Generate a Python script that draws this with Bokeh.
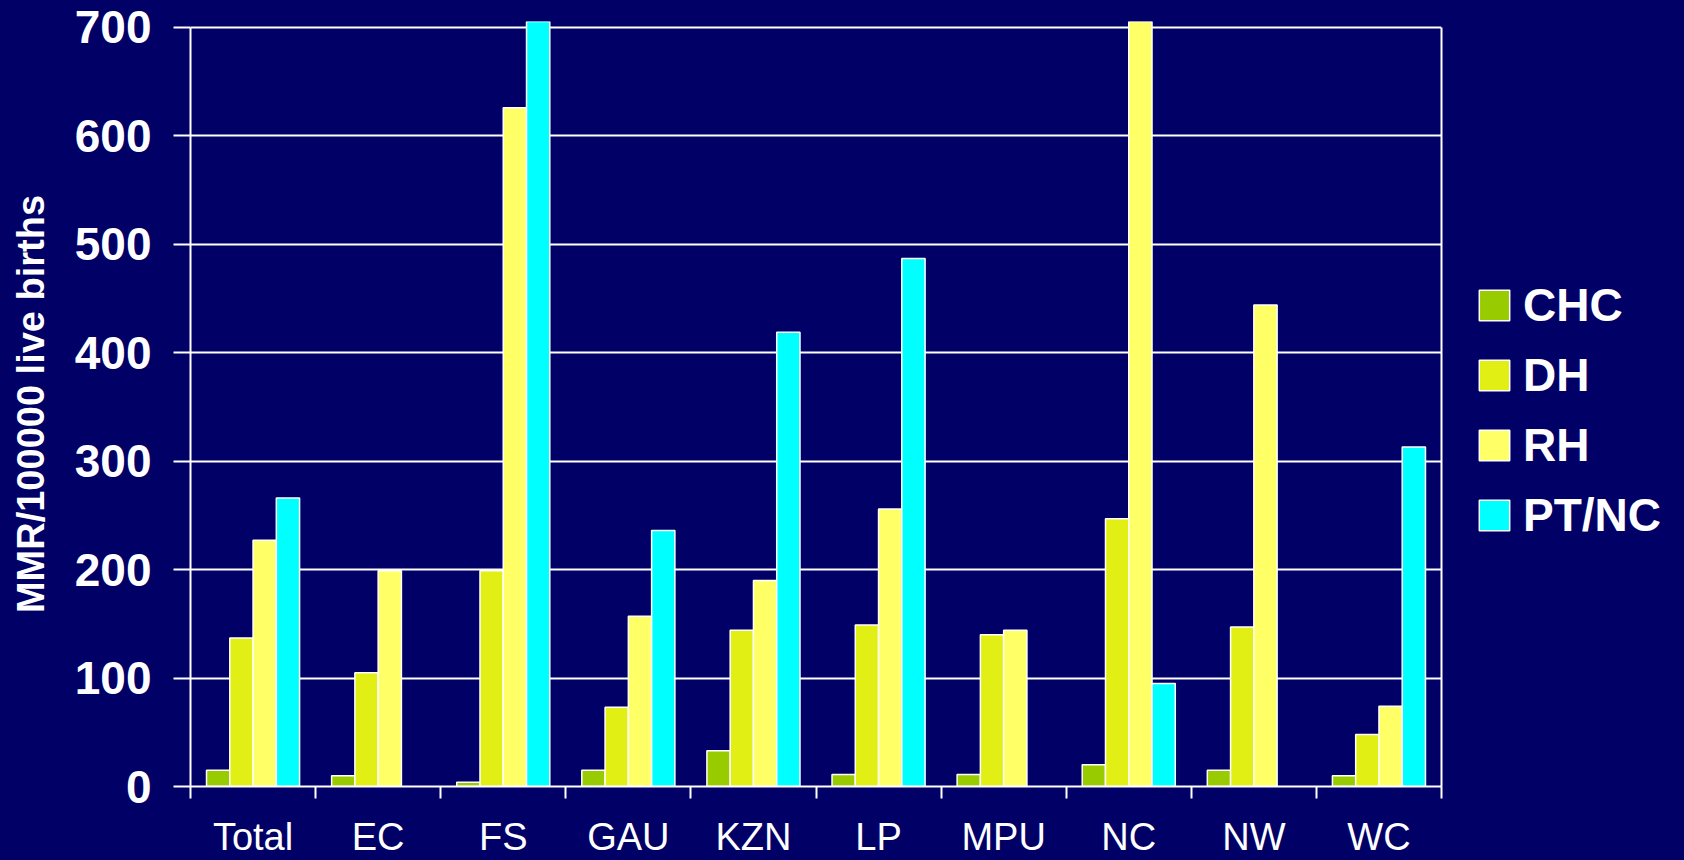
import numpy as np
from bokeh.plotting import figure
from bokeh.layouts import row
from bokeh.models import (ColumnDataSource, Range1d, FixedTicker, LinearAxis, Legend,
                          LegendItem, SingleIntervalTicker)
from bokeh.embed import file_html
from bokeh.resources import INLINE

categories = ["Total", "EC", "FS", "GAU", "KZN", "LP", "MPU", "NC", "NW", "WC"]
series = ["CHC", "DH", "RH", "PT/NC"]
chc = [15, 10, 4, 15, 33, 11, 11, 20, 15, 10]
dh = [137, 105, 199, 73, 144, 149, 140, 247, 147, 48]
rh = [227, 199, 626, 157, 190, 256, 144, 760, 444, 74]
ptnc = [266, np.nan, 760, 236, 419, 487, np.nan, 95, np.nan, 313]
values = [chc, dh, rh, ptnc]
colors = ["#99CC00", "#E1EF14", "#FFFF66", "#00FFFF"]

BG = "#000066"
FONT = "Liberation Sans"
n = len(categories)
bw = 0.186

p = figure(width=1460, height=860, x_range=Range1d(0, n), y_range=Range1d(0, 705.5),
           output_backend="svg", toolbar_location=None,
           min_border_left=190, min_border_right=19, min_border_top=21, min_border_bottom=73,
           background_fill_color=BG, border_fill_color=BG, outline_line_color=None)

for j, (name, vals, col) in enumerate(zip(series, values, colors)):
    xs = [i + 0.5 + (j - 1.5) * bw for i in range(n)]
    src = ColumnDataSource(dict(x=xs, top=vals))
    p.vbar(x="x", top="top", bottom=0, width=bw, source=src,
           fill_color=col, line_color="white", line_width=1.5)

# x axis: labels at category centres, ticks at category boundaries
xa = p.xaxis[0]
centres = [i + 0.5 for i in range(n)]
xa.ticker = FixedTicker(ticks=centres, minor_ticks=list(range(n + 1)))
xa.major_label_overrides = {c: lab for c, lab in zip(centres, categories)}
xa.axis_line_color = "white"
xa.axis_line_width = 2
xa.minor_tick_line_color = "white"
xa.minor_tick_line_width = 2
xa.minor_tick_out = 12
xa.minor_tick_in = 0
xa.major_tick_out = 0
xa.major_tick_in = 0
xa.major_tick_line_color = None
xa.major_label_text_font = FONT
xa.major_label_text_font_size = "38px"
xa.major_label_text_line_height = 1.0
xa.major_label_text_color = "white"
xa.major_label_standoff = 17
p.xgrid.visible = False

ya = p.yaxis[0]
ya.ticker = SingleIntervalTicker(interval=100, num_minor_ticks=0)
ya.bounds = (0, 700)
ya.axis_line_color = "white"
ya.axis_line_width = 2
ya.major_tick_line_color = "white"
ya.major_tick_line_width = 2
ya.major_tick_out = 17
ya.major_tick_in = 0
ya.minor_tick_line_color = None
ya.major_label_text_font = FONT
ya.major_label_text_font_size = "46px"
ya.major_label_text_font_style = "bold"
ya.major_label_text_color = "white"
ya.major_label_standoff = 22
ya.axis_label = "MMR/100000 live births"
ya.axis_label_text_font = FONT
ya.axis_label_text_font_size = "38px"
ya.axis_label_text_font_style = "bold"
ya.axis_label_text_color = "white"
ya.axis_label_standoff = 20
p.ygrid.grid_line_color = "white"
p.ygrid.grid_line_width = 2

rax = LinearAxis(ticker=FixedTicker(ticks=[]), bounds=(0, 700), axis_line_color="white",
                 axis_line_width=2, major_tick_out=0, major_tick_in=0, minor_tick_out=0,
                 minor_tick_in=0, major_label_text_font_size="0px")
p.add_layout(rax, "right")

# legend panel (its glyph renderers hold no drawable points; they only carry the styles)
pl = figure(width=224, height=860, x_range=Range1d(0, 1), y_range=Range1d(0, 1),
            output_backend="svg", toolbar_location=None, x_axis_location=None,
            y_axis_location=None, min_border=0,
            background_fill_color=BG, border_fill_color=BG, outline_line_color=None)
pl.grid.visible = False
items = []
for name, col in zip(series, colors):
    r = pl.vbar(x=[np.nan], top=[np.nan], width=1, fill_color=col,
                line_color="white", line_width=1.5)
    items.append(LegendItem(label=name, renderers=[r]))
legend = Legend(items=items, location=(15, 244), glyph_width=38, glyph_height=38,
                label_text_font=FONT, label_text_font_size="46px", label_text_font_style="bold",
                label_text_color="white", spacing=16, padding=0, margin=0,
                border_line_color=None, background_fill_alpha=0, label_standoff=10)
pl.add_layout(legend)

layout = row(p, pl, spacing=0, styles={"background-color": BG})
open("out.html", "w").write(file_html(layout, INLINE))
